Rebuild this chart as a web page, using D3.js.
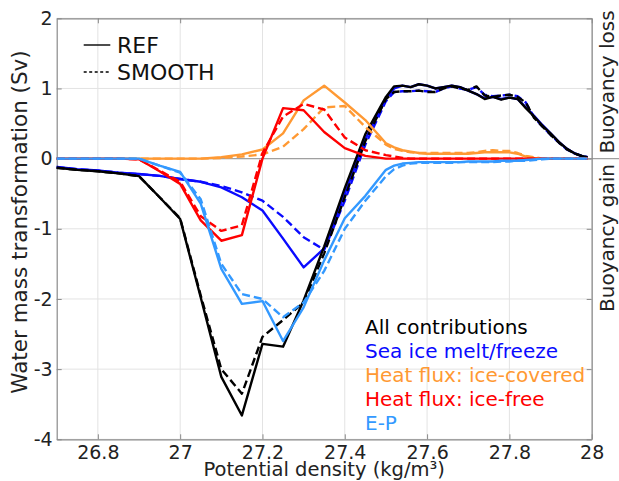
<!DOCTYPE html>
<html><head><meta charset="utf-8">
<script src="https://cdn.jsdelivr.net/npm/d3@7"></script>
<style>body{margin:0;background:#fff}svg{display:block}text{font-family:"DejaVu Sans",sans-serif}</style>
</head><body><svg id="c" width="619" height="481"></svg>
<script>
// density bins (kg/m3)
const density = [26.7,26.75,26.8,26.85,26.9,26.95,27.0,27.05,27.1,27.15,27.2,27.25,27.3,27.35,27.4,27.45,27.5,
  27.52,27.54,27.56,27.58,27.6,27.62,27.64,27.66,27.68,27.7,27.72,27.74,27.76,27.78,27.8,27.82,27.84,27.86,27.88,27.9,27.92,27.94,27.96,27.98,27.99];

// All contributions
const allRef = [-0.13,-0.16,-0.18,-0.21,-0.25,-0.55,-0.86,-1.98,-3.11,-3.66,-2.64,-2.68,-2.02,-1.25,-0.42,0.35,0.88,
  1.03,1.04,1.02,1.06,1.04,1.0,1.02,1.04,1.02,0.97,0.92,0.85,0.88,0.84,0.87,0.85,0.72,0.6,0.47,0.36,0.24,0.14,0.07,0.03,0.02];
const allSmooth = [-0.13,-0.16,-0.18,-0.21,-0.25,-0.55,-0.85,-1.95,-3.0,-3.35,-2.54,-2.3,-2.05,-1.35,-0.55,0.25,0.85,
  0.95,0.96,0.96,0.97,0.95,0.95,1.0,1.03,1.0,0.98,1.03,0.9,0.88,0.9,0.91,0.88,0.8,0.58,0.46,0.34,0.23,0.13,0.07,0.03,0.02];
// Sea ice melt/freeze
const iceRef = [-0.12,-0.15,-0.17,-0.2,-0.22,-0.245,-0.29,-0.33,-0.41,-0.55,-0.74,-1.14,-1.55,-1.28,-0.5,0.28,0.85,
  1.0,1.04,1.02,1.06,1.04,1.0,1.02,1.04,1.02,0.97,0.92,0.86,0.88,0.85,0.87,0.85,0.73,0.61,0.48,0.36,0.24,0.14,0.07,0.03,0.02];
const iceSmooth = [-0.12,-0.15,-0.17,-0.2,-0.22,-0.245,-0.29,-0.33,-0.39,-0.48,-0.6,-0.83,-1.12,-1.3,-0.6,0.2,0.82,
  0.95,0.96,0.96,0.97,0.96,0.95,1.0,1.03,1.0,0.98,1.02,0.91,0.89,0.9,0.91,0.89,0.8,0.59,0.46,0.34,0.23,0.13,0.07,0.03,0.02];
// Heat flux: ice-covered
const covRef = [0,0,0,0,0,0,0,0,0.02,0.06,0.13,0.36,0.83,1.04,0.8,0.55,0.22,
  0.16,0.12,0.1,0.08,0.07,0.07,0.07,0.07,0.07,0.07,0.08,0.09,0.09,0.09,0.09,0.07,0.03,0.01,0,0,0,0,0,0,0];
const covSmooth = [0,0,0,0,0,0,0,0,0.01,0.03,0.06,0.17,0.42,0.73,0.75,0.45,0.2,
  0.14,0.11,0.09,0.08,0.08,0.08,0.08,0.08,0.08,0.08,0.09,0.11,0.12,0.11,0.11,0.08,0.04,0.02,0,0,0,0,0,0,0];
// Heat flux: ice-free
const freeRef = [0,0,0,0,-0.01,-0.18,-0.36,-0.88,-1.17,-1.09,0.0,0.72,0.69,0.38,0.15,0.04,0.0,
  0,0,0,0,0,0,0,0,0,0,0,0,0,0,0,0,0,0,0,0,0,0,0,0,0];
const freeSmooth = [0,0,0,0,-0.01,-0.17,-0.33,-0.82,-1.03,-0.95,0.08,0.6,0.78,0.7,0.3,0.12,0.05,
  0.03,0.01,0,0,0,0,0,0,0,0,0,0,0,0,0,0,0,0,0,0,0,0,0,0,0];
// E-P
const epRef = [0,0,0,0,0,-0.1,-0.19,-0.64,-1.57,-2.07,-2.03,-2.6,-2.12,-1.45,-0.85,-0.53,-0.16,
  -0.1,-0.07,-0.06,-0.05,-0.05,-0.05,-0.05,-0.05,-0.05,-0.04,-0.04,-0.04,-0.04,-0.03,-0.03,-0.03,-0.02,-0.01,0,0,0,0,0,0,0];
const epSmooth = [0,0,0,0,0,-0.1,-0.2,-0.58,-1.5,-1.93,-2.0,-2.26,-2.05,-1.6,-1.0,-0.6,-0.25,
  -0.15,-0.1,-0.07,-0.06,-0.06,-0.06,-0.06,-0.06,-0.05,-0.05,-0.05,-0.05,-0.05,-0.04,-0.04,-0.03,-0.03,-0.02,-0.01,0,0,0,0,0,0];

const xTicks = [26.8,27,27.2,27.4,27.6,27.8,28];
const yTicks = [-4,-3,-2,-1,0,1,2];
const seriesNames = ["All contributions","Sea ice melt/freeze","Heat flux: ice-covered","Heat flux: ice-free","E-P"];
const seriesColors = ["#000000","#0a0aff","#ff9933","#ff0000","#3399ff"];

const svg = d3.select("#c");
const L=56.7, R=591.7, T=18.3, B=439.3;
const x = d3.scaleLinear().domain([26.7,28]).range([L,R]);
const y = d3.scaleLinear().domain([-4,2]).range([B,T]);

// grid
svg.append("g").selectAll("line").data(xTicks).join("line")
  .attr("x1",d=>x(d)).attr("x2",d=>x(d)).attr("y1",T).attr("y2",B)
  .attr("stroke","#e3e3e3").attr("stroke-width",1);
svg.append("g").selectAll("line").data(yTicks).join("line")
  .attr("x1",L).attr("x2",R).attr("y1",d=>y(d)).attr("y2",d=>y(d))
  .attr("stroke","#e3e3e3").attr("stroke-width",1);
// zero line (extends past right edge)
svg.append("line").attr("x1",L).attr("x2",619).attr("y1",y(0)).attr("y2",y(0))
  .attr("stroke","#a0a0a0").attr("stroke-width",1.3);

// axes with inward ticks on all sides
const fmt = d=>String(d);
const axB = svg.append("g").attr("transform",`translate(0,${B})`)
  .call(d3.axisBottom(x).tickValues(xTicks).tickSizeInner(-5).tickSizeOuter(0).tickPadding(6).tickFormat(fmt));
const axT = svg.append("g").attr("transform",`translate(0,${T})`)
  .call(d3.axisTop(x).tickValues(xTicks).tickSizeInner(-5).tickSizeOuter(0).tickFormat(""));
const axL = svg.append("g").attr("transform",`translate(${L},0)`)
  .call(d3.axisLeft(y).tickValues(yTicks).tickSizeInner(-5).tickSizeOuter(0).tickPadding(4).tickFormat(fmt));
const axR = svg.append("g").attr("transform",`translate(${R},0)`)
  .call(d3.axisRight(y).tickValues(yTicks).tickSizeInner(-5).tickSizeOuter(0).tickFormat(""));
[axB,axT,axL,axR].forEach(a=>{
  a.select(".domain").attr("stroke","#8a8a8a").attr("stroke-width",1.2);
  a.selectAll(".tick line").attr("stroke","#8a8a8a");
  a.selectAll(".tick text").attr("font-size",19).attr("fill","#222").attr("font-family","DejaVu Sans");
});

// series
const line = d3.line().x((d,i)=>x(density[i])).y(d=>y(d));
const plotOrder = [
  [iceRef,1,false],[iceSmooth,1,true],
  [allRef,0,false],[allSmooth,0,true],
  [covRef,2,false],[covSmooth,2,true],
  [freeRef,3,false],[freeSmooth,3,true],
  [epRef,4,false],[epSmooth,4,true]
];
const gS = svg.append("g");
plotOrder.forEach(([vals,ci,dashed])=>{
  gS.append("path").attr("d",line(vals)).attr("fill","none")
    .attr("stroke",seriesColors[ci]).attr("stroke-width",2.4)
    .attr("stroke-linejoin","round")
    .attr("stroke-dasharray",dashed?"8,4":null);
});

// top-left style legend
const styleLeg = [["REF",null,45],["SMOOTH","3,2.5",72]];
styleLeg.forEach(([t,da,yy])=>{
  svg.append("line").attr("x1",83.7).attr("x2",110.3).attr("y1",yy).attr("y2",yy)
    .attr("stroke","#000").attr("stroke-width",1.4).attr("stroke-dasharray",da);
  svg.append("text").attr("x",117).attr("y",yy+8).attr("font-size",22).attr("fill","#111").text(t);
});

// bottom-right colour legend
seriesNames.forEach((n,i)=>{
  svg.append("text").attr("x",365).attr("y",334+i*24).attr("font-size",20)
    .attr("fill",seriesColors[i]).text(n);
});

// axis titles
svg.append("text").attr("x",(L+R)/2).attr("y",476).attr("text-anchor","middle")
  .attr("font-size",19.5).attr("fill","#222").text("Potential density (kg/m³)");
svg.append("text").attr("transform","translate(27,222) rotate(-90)").attr("text-anchor","middle")
  .attr("font-size",21.5).attr("fill","#222").text("Water mass transformation (Sv)");
svg.append("text").attr("transform","translate(614,82) rotate(-90)").attr("text-anchor","middle")
  .attr("font-size",20).attr("fill","#222").text("Buoyancy loss");
svg.append("text").attr("transform","translate(614,238) rotate(-90)").attr("text-anchor","middle")
  .attr("font-size",20).attr("fill","#222").text("Buoyancy gain");
</script></body></html>
